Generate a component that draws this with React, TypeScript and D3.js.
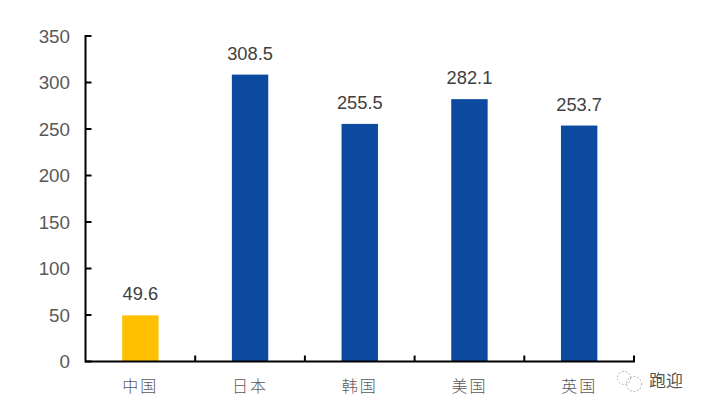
import * as d3 from "d3";
import { useEffect, useRef } from "react";

const categories = ["中国", "日本", "韩国", "美国", "英国"];
const values = [49.6, 308.5, 255.5, 282.1, 253.7];
const yTicks = [0, 50, 100, 150, 200, 250, 300, 350];
const barColors = ["#FFC000", "#0B4A9E", "#0B4A9E", "#0B4A9E", "#0B4A9E"];

const width = 705;
const height = 412;
const margin = { top: 36, right: 71, bottom: 50.5, left: 85.5 };
const latin = "Liberation Sans, Arial, sans-serif";
const cjk = "'Noto Sans CJK SC', sans-serif";

const App = () => {
  const ref = useRef<SVGSVGElement | null>(null);

  useEffect(() => {
    if (!ref.current) return;

    const svg = d3.select(ref.current);
    svg.selectAll("*").remove();

    const x = d3
      .scaleBand<string>()
      .domain(categories)
      .range([margin.left, width - margin.right]);
    const y = d3
      .scaleLinear()
      .domain([0, 350])
      .range([height - margin.bottom, margin.top]);

    const barWidth = 36.4;

    svg
      .append("g")
      .selectAll("rect")
      .data(values)
      .join("rect")
      .attr("x", (_, i) => x(categories[i])! + x.bandwidth() / 2 - barWidth / 2)
      .attr("y", (d) => y(d))
      .attr("width", barWidth)
      .attr("height", (d) => y(0) - y(d))
      .attr("fill", (_, i) => barColors[i]);

    svg
      .append("g")
      .selectAll("text")
      .data(values)
      .join("text")
      .attr("x", (_, i) => x(categories[i])! + x.bandwidth() / 2)
      .attr("y", (d) => y(d) - 15)
      .attr("text-anchor", "middle")
      .attr("font-family", latin)
      .attr("font-size", 18.3)
      .attr("fill", "#404040")
      .text((d) => d.toFixed(1));

    // y axis, ticks point inward
    const yAxis = svg.append("g").attr("stroke", "#000").attr("stroke-width", 2);
    yAxis
      .append("line")
      .attr("x1", margin.left)
      .attr("x2", margin.left)
      .attr("y1", y(350) - 1)
      .attr("y2", y(0) + 1);
    yAxis
      .selectAll("line.tick")
      .data(yTicks)
      .join("line")
      .attr("class", "tick")
      .attr("x1", margin.left)
      .attr("x2", margin.left + 6)
      .attr("y1", (d) => y(d))
      .attr("y2", (d) => y(d));

    svg
      .append("g")
      .selectAll("text")
      .data(yTicks)
      .join("text")
      .attr("x", 70)
      .attr("y", (d) => y(d))
      .attr("dy", "0.35em")
      .attr("text-anchor", "end")
      .attr("font-family", latin)
      .attr("font-size", 18.8)
      .attr("fill", "#595959")
      .text((d) => d);

    // x axis, ticks at the band edges
    const xAxis = svg.append("g").attr("stroke", "#000").attr("stroke-width", 2);
    xAxis
      .append("line")
      .attr("x1", margin.left)
      .attr("x2", width - margin.right + 1)
      .attr("y1", y(0))
      .attr("y2", y(0));
    xAxis
      .selectAll("line.tick")
      .data(categories)
      .join("line")
      .attr("class", "tick")
      .attr("x1", (d) => x(d)! + x.bandwidth())
      .attr("x2", (d) => x(d)! + x.bandwidth())
      .attr("y1", y(0))
      .attr("y2", y(0) - 6);

    svg
      .append("g")
      .selectAll("text")
      .data(categories)
      .join("text")
      .attr("x", (d) => x(d)! + x.bandwidth() / 2)
      .attr("y", 392)
      .attr("text-anchor", "middle")
      .attr("font-family", cjk)
      .attr("font-weight", 300)
      .attr("font-size", 16)
      .attr("letter-spacing", 2)
      .attr("fill", "#595959")
      .text((d) => d);

    // watermark
    const mark = svg.append("g").attr("fill", "none").attr("stroke", "#a0a0a0");
    mark
      .append("circle")
      .attr("cx", 624)
      .attr("cy", 378)
      .attr("r", 6.5)
      .attr("stroke-width", 1)
      .attr("stroke-dasharray", "1.5 2");
    mark
      .append("circle")
      .attr("cx", 634)
      .attr("cy", 384)
      .attr("r", 7.5)
      .attr("stroke-width", 1)
      .attr("stroke-dasharray", "1.5 2");

    svg
      .append("text")
      .attr("x", 649)
      .attr("y", 387)
      .attr("font-family", cjk)
      .attr("font-size", 17)
      .attr("fill", "#555")
      .text("跑迎");
  }, []);

  return (
    <svg
      ref={ref}
      width={width}
      height={height}
      style={{ position: "absolute", left: 0, top: 0, background: "#fff" }}
    />
  );
};

export default App;
